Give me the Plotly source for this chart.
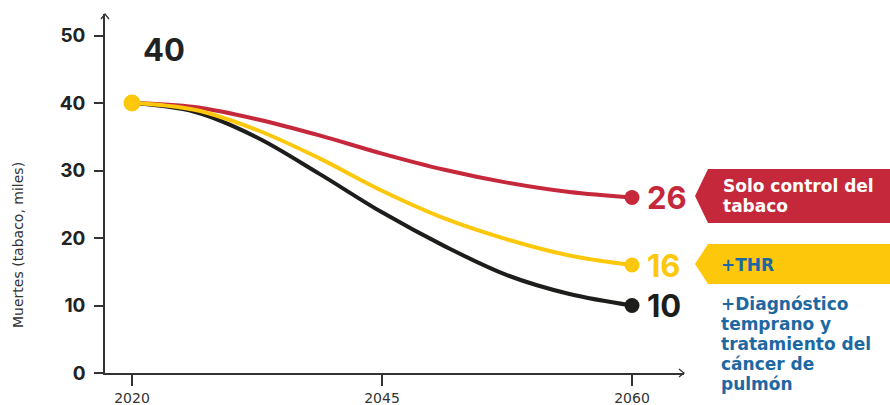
import plotly.graph_objects as go

# Horizon labels on the time axis (equally spaced)
years = ["2020", "2045", "2060"]
year_pos = [0, 1, 2]

# Sample positions along the time axis (0 = 2020, 1 = 2045, 2 = 2060)
sample_pos = [0, 0.25, 0.5, 0.75, 1, 1.25, 1.5, 1.75, 2]

# Deaths attributable to tobacco (thousands) per scenario
solo_control = [40, 39.4, 37.6, 35.2, 32.5, 30.1, 28.2, 26.8, 26]
con_thr = [40, 39.0, 36.0, 31.8, 27.0, 22.9, 19.8, 17.4, 16]
con_diagnostico = [40, 38.7, 34.9, 29.5, 23.8, 18.8, 14.5, 11.7, 10]

start_value = 40
end_values = [26, 16, 10]

# Scenario tag texts
tag_solo = ["Solo control del", "tabaco"]
tag_thr = ["+THR"]
tag_diag = ["+Diagnóstico", "temprano y", "tratamiento del", "cáncer de", "pulmón"]

RED = "#C6283B"
YELLOW = "#FDC80C"
BLACK = "#1D1D1B"
BLUE = "#1D68A3"
AXIS = "#333333"
NUMFONT = "Inter"
TAGFONT = "DejaVu Sans"

W, H = 890, 405
L, R, T, B = 105, 206, 14, 32
PW, PH = W - L - R, H - T - B


def px(x):
    return (x - L) / PW


def py(y):
    return (H - B - y) / PH


fig = go.Figure()

for name, vals, col in [("+Diagnóstico", con_diagnostico, BLACK),
                        ("Solo control", solo_control, RED),
                        ("+THR", con_thr, YELLOW)]:
    fig.add_trace(go.Scatter(
        x=sample_pos, y=vals, mode="lines", name=name,
        line=dict(color=col, width=4, shape="spline", smoothing=1.0),
        hoverinfo="skip"))

# end-point dots
fig.add_trace(go.Scatter(
    x=[year_pos[-1]] * 3, y=end_values, mode="markers",
    marker=dict(size=15, color=[RED, YELLOW, BLACK]), hoverinfo="skip"))
# start dot
fig.add_trace(go.Scatter(
    x=[year_pos[0]], y=[start_value], mode="markers",
    marker=dict(size=17, color=YELLOW), hoverinfo="skip"))

annotations = []
# value labels at the end of each scenario
for v, col in zip(end_values, [RED, YELLOW, BLACK]):
    annotations.append(dict(
        x=year_pos[-1], y=v, xref="x", yref="y", text=str(v),
        showarrow=False, xanchor="left", yanchor="middle", xshift=13,
        font=dict(family=NUMFONT, size=31, color=col, weight=700)))
# starting value
annotations.append(dict(
    x=year_pos[0], y=start_value, xref="x", yref="y", text=str(start_value),
    showarrow=False, xanchor="left", yanchor="middle", xshift=9, yshift=54,
    font=dict(family=NUMFONT, size=31, color="#222222", weight=700)))


def tag_lines(lines, x_left, y_first, color):
    for i, line in enumerate(lines):
        annotations.append(dict(
            x=px(x_left), y=py(y_first + 20 * i), xref="paper", yref="paper",
            text=line, showarrow=False, xanchor="left", yanchor="middle",
            font=dict(family=TAGFONT, size=17, color=color, weight=700)))


tag_lines(tag_solo, 721, 186, "white")
tag_lines(tag_thr, 719, 265, BLUE)
tag_lines(tag_diag, 719, 304, BLUE)

# y axis title
annotations.append(dict(
    x=px(18), y=py(245), xref="paper", yref="paper",
    text="Muertes (tabaco, miles)", showarrow=False, textangle=-90,
    xanchor="center", yanchor="middle",
    font=dict(family=TAGFONT, size=14, color=AXIS)))


def flag(x_tip, y_tip, x_sh, y_top, y_bot, x_end):
    return (f"M {px(x_tip)} {py(y_tip)} L {px(x_sh)} {py(y_top)} "
            f"L {px(x_end)} {py(y_top)} L {px(x_end)} {py(y_bot)} "
            f"L {px(x_sh)} {py(y_bot)} Z")


shapes = [
    dict(type="path", xref="paper", yref="paper",
         path=flag(695, 196, 708, 169, 223, 892), fillcolor=RED,
         line=dict(width=0), layer="below"),
    dict(type="path", xref="paper", yref="paper",
         path=flag(695, 264, 708, 244, 284, 892), fillcolor=YELLOW,
         line=dict(width=0), layer="below"),
    # arrow heads at the axis ends
    dict(type="path", xref="paper", yref="paper",
         path=f"M {px(101)} {py(19)} L {px(105)} {py(14)} L {px(109)} {py(19)}",
         line=dict(color=AXIS, width=1.3)),
    dict(type="path", xref="paper", yref="paper",
         path=f"M {px(679)} {py(369)} L {px(684)} {py(373)} L {px(679)} {py(377)}",
         line=dict(color=AXIS, width=1.3)),
]

fig.update_layout(
    width=W, height=H,
    margin=dict(l=L, r=R, t=T, b=B, pad=0),
    paper_bgcolor="white", plot_bgcolor="white",
    showlegend=False,
    annotations=annotations, shapes=shapes,
    xaxis=dict(
        range=[(L - 132) / 250, (W - R - 132) / 250],
        tickmode="array", tickvals=year_pos, ticktext=years,
        showgrid=False, zeroline=False, showline=True, automargin=False,
        linecolor=AXIS, linewidth=1.5,
        ticks="outside", ticklen=11, tickwidth=1.5, tickcolor=AXIS,
        ticklabelstandoff=0,
        tickfont=dict(family=TAGFONT, size=14, color=AXIS)),
    yaxis=dict(
        range=[0, PH / 6.75],
        tickmode="array", tickvals=[0, 10, 20, 30, 40, 50],
        showgrid=False, zeroline=False, showline=True, automargin=False,
        linecolor=AXIS, linewidth=1.5,
        ticks="outside", ticklen=9, tickwidth=1.5, tickcolor=AXIS,
        ticklabelstandoff=5,
        tickfont=dict(family=NUMFONT, size=19, color="#222222", weight=700)),
)

fig.write_html("out.html")
